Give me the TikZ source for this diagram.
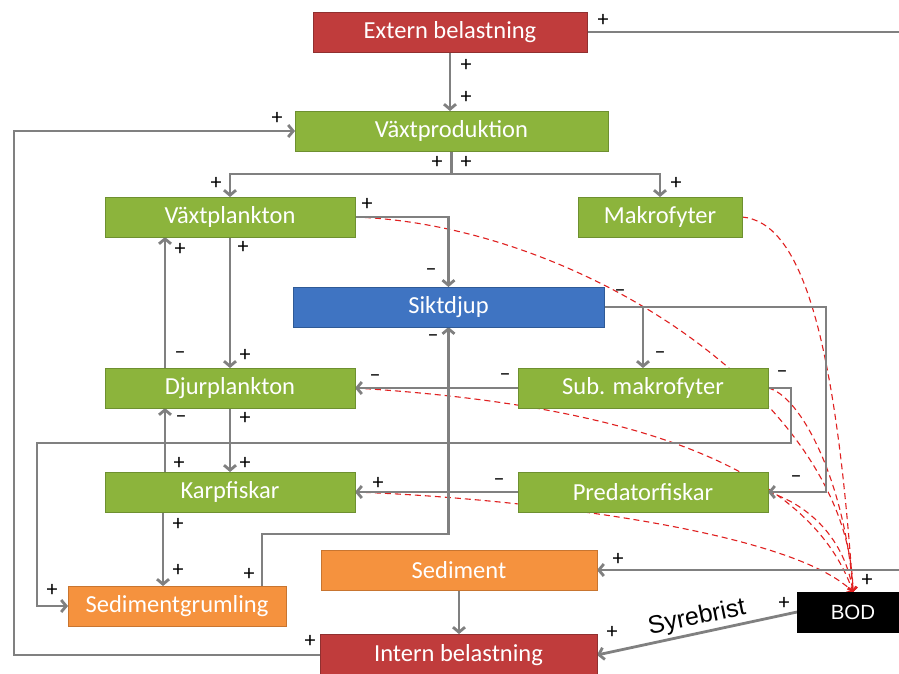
\documentclass[tikz,border=0pt]{standalone}
\usepackage{fontspec}
\setmainfont{Carlito}
\newfontfamily\arialf{Liberation Sans}
\usetikzlibrary{arrows.meta,calc}
\definecolor{gfill}{HTML}{8CB43C}
\definecolor{gline}{HTML}{6E9030}
\definecolor{rfill}{HTML}{C03C3C}
\definecolor{rline}{HTML}{903030}
\definecolor{bfill}{HTML}{3F74C2}
\definecolor{bline}{HTML}{2F5A96}
\definecolor{ofill}{HTML}{F5923E}
\definecolor{oline}{HTML}{C87530}
\definecolor{lgray}{HTML}{808080}
\definecolor{redc}{HTML}{E02020}
\newcommand\sgnlab[3]{\node[sgn] (#1) at (#2) {#3};}
\begin{document}
\begin{tikzpicture}[x=1pt,y=-1pt,
  base/.style={minimum height=40pt, inner sep=0pt, outer sep=0pt, line width=0.8pt, text=white, font=\fontsize{24.5}{28}\selectfont},
  gbox/.style={base, fill=gfill, draw=gline},
  rbox/.style={base, fill=rfill, draw=rline},
  bbox/.style={base, fill=bfill, draw=bline},
  obox/.style={base, fill=ofill, draw=oline},
  kbox/.style={base, fill=black, draw=black, font=\arialf\fontsize{20.5}{24}\selectfont},
  ln/.style={draw=lgray, line width=2.8pt},
  arr/.style={ln, -{Straight Barb[length=5pt,width=12pt]}},
  rd/.style={draw=redc, line width=1.1pt, dash pattern=on 6pt off 4pt, -{Straight Barb[length=4pt,width=9pt]}},
  sgn/.style={font=\fontsize{22}{24}\selectfont, inner sep=0pt, text=black}
]
\useasboundingbox (0,0) rectangle (899,673);
\fill[white] (0,0) rectangle (899,673);

% node frames (give anchors); text drawn on top later
\path
  node[rbox, minimum width=274pt] (ext) at (450,32) {}
  node[gbox, minimum width=313pt] (vprod) at (451.5,131) {}
  node[gbox, minimum width=250pt] (vpl) at (230,217) {}
  node[gbox, minimum width=164pt] (makro) at (660,217) {}
  node[bbox, minimum width=311pt] (sikt) at (448.5,307) {}
  node[gbox, minimum width=250pt] (djur) at (230,388) {}
  node[gbox, minimum width=250pt] (sub) at (643,388) {}
  node[gbox, minimum width=250pt] (karp) at (230,492) {}
  node[gbox, minimum width=250pt] (pred) at (643,492) {}
  node[obox, minimum width=276pt] (sed) at (459,570) {}
  node[obox, minimum width=218pt] (grum) at (177,606) {}
  node[rbox, minimum width=277pt, minimum height=42pt] (intern) at (458.5,655) {}
  node[kbox, minimum width=112pt] (bod) at (853,612) {};
\coordinate (redge1) at (899,32);
\coordinate (redge2) at (899,570);

% red dashed influences on BOD
\draw[rd] (vpl.east) .. controls (580,225) and (850,400) .. (bod.north);
\draw[rd] (makro.east) .. controls (800,222) and (835,330) .. (bod.north);
\draw[rd] (sub.east) .. controls (800,395) and (845,480) .. (bod.north);
\draw[rd] (djur.east) .. controls (550,400) and (800,440) .. (bod.north);
\draw[rd] (pred.east) .. controls (810,505) and (845,540) .. (bod.north);
\draw[rd] (karp.east) .. controls (520,498) and (790,530) .. (bod.north);

% gray connectors
\draw[arr] (ext.south) -- (ext.south |- vprod.north);
\draw[ln] (ext.east) -- (redge1);
\draw[arr] (intern.west) -- ++(-306,0) |- (vprod.west);
\draw[arr] (vprod.south) -- ++(0,23) -| (vpl.north);
\draw[arr] (vprod.south) -- ++(0,23) -| (makro.north);
\draw[arr] (vpl.east) -| (sikt.north);
\draw[arr] ([xshift=-65pt]djur.north) -- ([xshift=-65pt]vpl.south);
\draw[arr] (vpl.south) -- (djur.north);
\draw[arr] ([xshift=-65pt]karp.north) -- ([xshift=-65pt]djur.south);
\draw[arr] (djur.south) -- (karp.north);
\draw[arr] ([xshift=-67pt]karp.south) -- ([xshift=-67pt]karp.south |- grum.north);
\draw[arr] (sub.east) -- ++(23,0) -- ++(0,55) -| ($(grum.west)+(-31,0)$) -- (grum.west);
\draw[arr] (sikt.east) -- ++(222,0) |- (pred.east);
\draw[arr] (sikt.east -| sub.north) -- (sub.north);
\draw[arr] (sub.west) -- (djur.east);
\draw[arr] (pred.west) -- (karp.east);
\draw[arr] ([xshift=85pt]grum.north) -- ++(0,-52) -| (sikt.south);
\draw[arr] (sed.south) -- (sed.south |- intern.north);
\draw[arr] (redge2) -- (sed.east);
\draw[arr] (bod.west) -- (intern.east);

% boxes with text on top
\node[rbox, minimum width=274pt] (extT) at (ext) {Extern belastning};
\node[gbox, minimum width=313pt] (vprodT) at (vprod) {Växtproduktion};
\node[gbox, minimum width=250pt] (vplT) at (vpl) {Växtplankton};
\node[gbox, minimum width=164pt] (makroT) at (makro) {Makrofyter};
\node[bbox, minimum width=311pt] (siktT) at (sikt) {Siktdjup};
\node[gbox, minimum width=250pt] (djurT) at (djur) {Djurplankton};
\node[gbox, minimum width=250pt] (subT) at (sub) {Sub. makrofyter};
\node[gbox, minimum width=250pt] (karpT) at (karp) {Karpfiskar};
\node[gbox, minimum width=250pt] (predT) at (pred) {Predatorfiskar};
\node[obox, minimum width=276pt] (sedT) at (sed) {Sediment};
\node[obox, minimum width=218pt] (grumT) at (grum) {Sedimentgrumling};
\node[rbox, minimum width=277pt, minimum height=42pt] (internT) at (intern) {Intern belastning};
\node[kbox, minimum width=112pt] (bodT) at (bod) {BOD};

\node[font=\arialf\fontsize{25}{28}\selectfont, rotate=11.5, inner sep=0pt] (syre) at (697,618) {Syrebrist};

% signs
\sgnlab{s1}{603,20}{+}
\sgnlab{s2}{466,65}{+}
\sgnlab{s3}{466,97}{+}
\sgnlab{s4}{277,118}{+}
\sgnlab{s5}{310,641}{+}
\sgnlab{s6}{437,162}{+}
\sgnlab{s7}{466,162}{+}
\sgnlab{s8}{216,183}{+}
\sgnlab{s9}{676,183}{+}
\sgnlab{s10}{367,204}{+}
\sgnlab{s11}{431,272}{–}
\sgnlab{s12}{180,249}{+}
\sgnlab{s13}{243,247}{+}
\sgnlab{s14}{180,355}{–}
\sgnlab{s15}{245,355}{+}
\sgnlab{s16}{181,419}{–}
\sgnlab{s17}{245,418}{+}
\sgnlab{s18}{179,463}{+}
\sgnlab{s19}{245,463}{+}
\sgnlab{s20}{375,378}{–}
\sgnlab{s21}{505,377}{–}
\sgnlab{s22}{660,355}{–}
\sgnlab{s23}{620,293}{–}
\sgnlab{s24}{782,374}{–}
\sgnlab{s25}{796,479}{–}
\sgnlab{s26}{378,483}{+}
\sgnlab{s27}{499,482}{–}
\sgnlab{s28}{433,338}{–}
\sgnlab{s29}{178,524}{+}
\sgnlab{s30}{178,570}{+}
\sgnlab{s31}{249,574}{+}
\sgnlab{s32}{52,590}{+}
\sgnlab{s33}{618,559}{+}
\sgnlab{s34}{867,580}{+}
\sgnlab{s35}{784,603}{+}
\sgnlab{s36}{612,632}{+}
\end{tikzpicture}
\end{document}
